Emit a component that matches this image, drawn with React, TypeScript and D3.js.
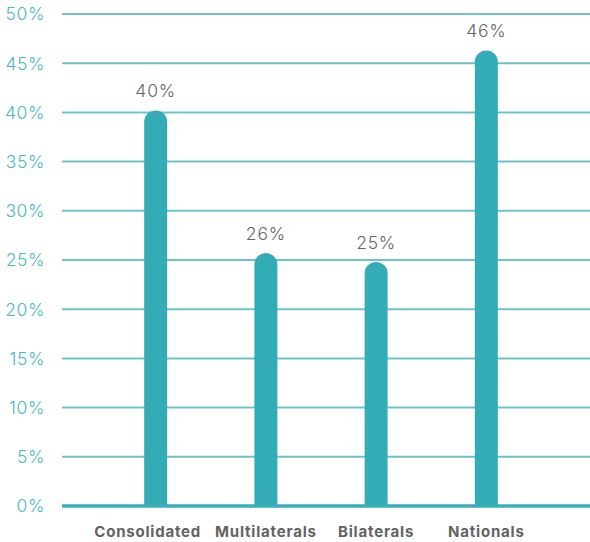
import React from "react";
import * as d3 from "d3";

const categories = ["Consolidated", "Multilaterals", "Bilaterals", "Nationals"];
const values = [40.2, 25.7, 24.8, 46.3];
const yTicks = [0, 5, 10, 15, 20, 25, 30, 35, 40, 45, 50];

const W = 590;
const H = 542;
const plotLeft = 62;
const plotRight = 590;
const plotTop = 14;
const plotBottom = 506;
const barWidth = 23;
const font = "Inter, 'Open Sans', sans-serif";

export default function App() {
  const y = d3.scaleLinear().domain([0, 50]).range([plotBottom, plotTop]);
  const x = d3.scalePoint<string>().domain(categories).range([plotLeft, plotRight - 10]).padding(0.85);
  const r = barWidth / 2;

  const barPath = (cx: number, v: number) => {
    const top = y(v);
    const p = d3.path();
    p.moveTo(cx - r, plotBottom);
    p.lineTo(cx - r, top + r);
    p.arc(cx, top + r, r, Math.PI, 0);
    p.lineTo(cx + r, plotBottom);
    p.closePath();
    return p.toString();
  };

  return (
    <svg width={W} height={H} style={{ position: "absolute", left: 0, top: 0, background: "#fff" }}>
      {yTicks.map((t) => (
        <g key={t}>
          {t !== 0 && (
            <line x1={plotLeft} x2={plotRight} y1={y(t)} y2={y(t)} stroke="#6cc3cc" strokeWidth={2} />
          )}
          <text
            x={45}
            y={y(t)}
            dy="0.36em"
            textAnchor="end"
            fontFamily={font}
            fontSize={17.5}
            fontWeight={300}
            letterSpacing={0.6}
            fill="#4ab7c4"
          >
            {t}%
          </text>
        </g>
      ))}
      {categories.map((c, i) => (
        <g key={c}>
          <path d={barPath(x(c)!, values[i])} fill="#33acb8" />
          <text
            x={x(c)!}
            y={y(values[i]) - 13}
            textAnchor="middle"
            fontFamily={font}
            fontSize={17.5}
            fontWeight={300}
            letterSpacing={0.8}
            fill="#666666"
          >
            {Math.round(values[i])}%
          </text>
          <text
            x={x(c)! + (i === 0 ? -8 : 0)}
            y={537}
            textAnchor="middle"
            fontFamily={font}
            fontSize={15}
            fontWeight={700}
            letterSpacing={0.8}
            fill="#636363"
          >
            {c}
          </text>
        </g>
      ))}
      <line x1={plotLeft} x2={plotRight} y1={y(0)} y2={y(0)} stroke="#3aaeb9" strokeWidth={3.5} />
    </svg>
  );
}
